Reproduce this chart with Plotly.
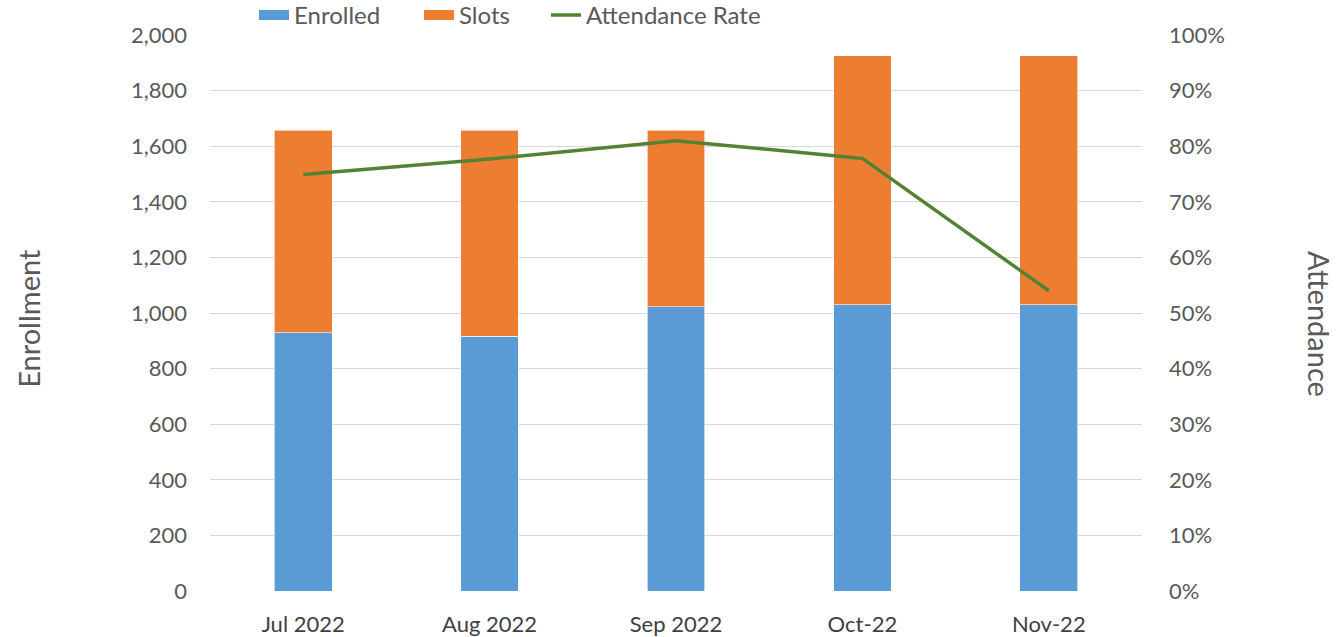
import plotly.graph_objects as go

months = ["Jul 2022", "Aug 2022", "Sep 2022", "Oct-22", "Nov-22"]
enrolled = [929, 917, 1022, 1030, 1030]
slots = [729, 741, 636, 895, 895]
attendance = [0.749, 0.777, 0.810, 0.778, 0.540]

left_ticks = list(range(0, 2001, 200))
right_ticks = [i / 10 for i in range(0, 11)]

FONT = "Lato, 'Open Sans', sans-serif"
GREY = "#595959"
BLUE = "#5B9BD5"
ORANGE = "#ED7D31"
GREEN = "#548235"

fig = go.Figure()
fig.add_trace(go.Bar(x=months, y=enrolled, name="Enrolled", showlegend=False,
                     marker=dict(color=BLUE, line=dict(color="rgba(255,255,255,0.6)", width=1))))
fig.add_trace(go.Bar(x=months, y=slots, name="Slots", showlegend=False,
                     marker=dict(color=ORANGE, line=dict(color="rgba(255,255,255,0.6)", width=1))))
fig.add_trace(go.Scatter(x=months, y=attendance, name="Attendance Rate", yaxis="y2", legend="legend3",
                         mode="lines", line=dict(color=GREEN, width=3.5)))
# legend-only entries drawn as wide rectangles like the reference's swatches
fig.add_trace(go.Scatter(x=[None], y=[None], name="Enrolled", legend="legend",
                         mode="lines", line=dict(color=BLUE, width=11), hoverinfo="skip"))
fig.add_trace(go.Scatter(x=[None], y=[None], name="Slots", legend="legend2",
                         mode="lines", line=dict(color=ORANGE, width=11), hoverinfo="skip"))


def leg(x):
    return dict(orientation="h", x=x, y=0.976, xanchor="left", yanchor="middle",
                yref="container", xref="paper",
                font=dict(size=24, color=GREY), itemwidth=30,
                bgcolor="rgba(0,0,0,0)")


fig.update_layout(
    width=1339, height=637,
    barmode="stack", bargap=0.69,
    plot_bgcolor="white", paper_bgcolor="white",
    margin=dict(l=210, r=197, t=35, b=46, autoexpand=False),
    font=dict(family=FONT, color=GREY, size=20),
    showlegend=True,
    legend=leg(0.0472),
    legend2=leg(0.2243),
    legend3=leg(0.3605),
    xaxis=dict(showgrid=False, showline=False, ticks="", tickfont=dict(size=22, color="#404040"),
               ticklabelstandoff=18, automargin=False),
    yaxis=dict(range=[0, 2000], tickvals=left_ticks, tickformat=",", showgrid=True,
               gridcolor="#D9D9D9", gridwidth=1, zeroline=False, showline=False,
               tickfont=dict(size=22, color=GREY), ticklabelstandoff=22, automargin=False),
    yaxis2=dict(range=[0, 1], tickvals=right_ticks, tickformat=".0%", overlaying="y", side="right",
                showgrid=False, zeroline=False, showline=False,
                tickfont=dict(size=22, color=GREY), ticklabelstandoff=26, automargin=False),
    annotations=[
        dict(text="Enrollment", xref="paper", yref="paper", x=-0.195, y=0.49, textangle=-90,
             showarrow=False, font=dict(size=29, color=GREY), xanchor="center", yanchor="middle"),
        dict(text="Attendance", xref="paper", yref="paper", x=1.191, y=0.48, textangle=90,
             showarrow=False, font=dict(size=29, color=GREY), xanchor="center", yanchor="middle"),
    ],
)

fig.write_html("out.html", config={"displayModeBar": False},
               post_script="document.body.style.margin='0';")
